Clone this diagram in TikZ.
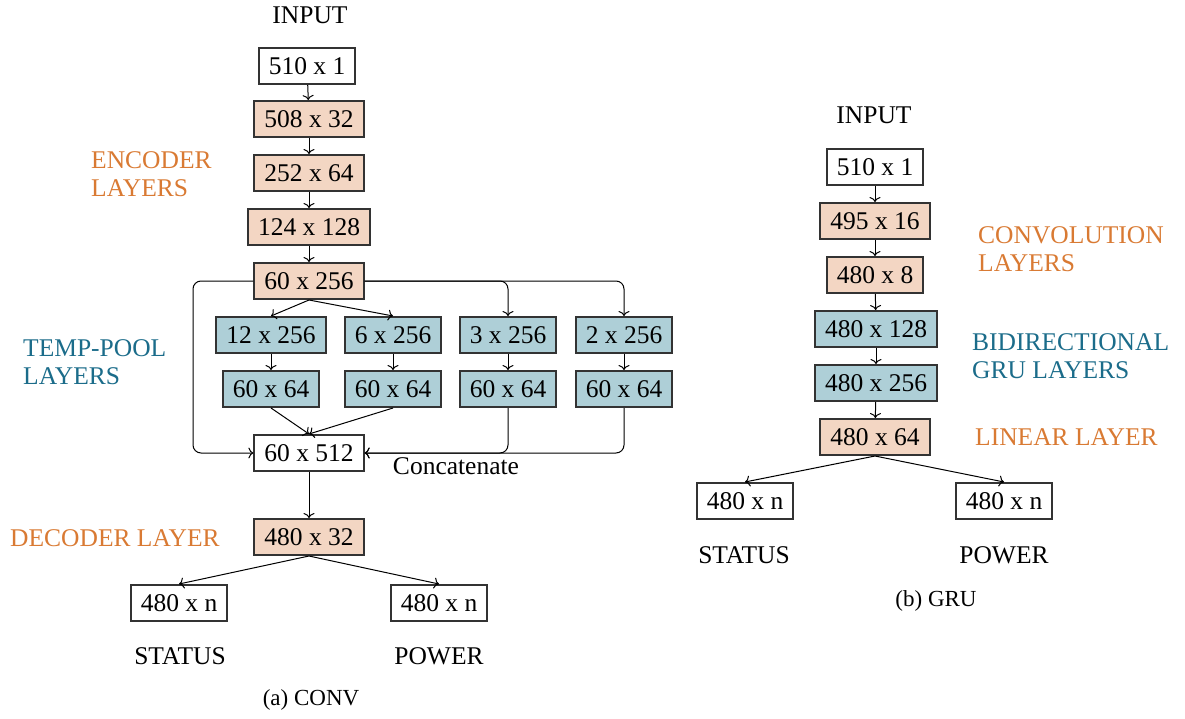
\documentclass[tikz,border=0pt]{standalone}
\usepackage{fontspec}
\setmainfont{Liberation Serif}
\usetikzlibrary{arrows.meta,calc}
\definecolor{peach}{HTML}{F3D6C3}
\definecolor{lblue}{HTML}{AECFD7}
\definecolor{orangetxt}{HTML}{D97A33}
\definecolor{bluetxt}{HTML}{1B6C8A}
\definecolor{edge}{HTML}{333333}
\begin{document}
\begin{tikzpicture}[x=1pt,y=-1pt,
  font=\fontsize{25.5}{28}\selectfont,
  box/.style={draw=edge,line width=2pt,minimum height=36pt,inner xsep=10pt,inner ysep=0pt,text height=17.5pt,text depth=0pt,fill=white},
  enc/.style={box,fill=peach},
  tmp/.style={box,fill=lblue},
  lbl/.style={anchor=west,align=left,inner sep=0pt},
  olbl/.style={lbl,text=orangetxt},
  blbl/.style={lbl,text=bluetxt},
  arr/.style={-{Computer Modern Rightarrow[length=5pt,width=11pt]},line width=1pt},
  captxt/.style={font=\fontsize{23}{26}\selectfont}
]
\useasboundingbox (0,0) rectangle (1185,719);
% ---------- left: CONV ----------
\node (ain) at (310,15) {INPUT};
\node[box] (a0) at (307,66) {510 x 1};
\node[enc] (a1) at (309,119) {508 x 32};
\node[enc] (a2) at (309,173) {252 x 64};
\node[enc] (a3) at (309,227) {124 x 128};
\node[enc] (a4) at (309,281) {60 x 256};
\node[tmp] (t1) at (271,335) {12 x 256};
\node[tmp] (t2) at (393,335) {6 x 256};
\node[tmp] (t3) at (508,335) {3 x 256};
\node[tmp] (t4) at (624,335) {2 x 256};
\node[tmp] (p1) at (271,389) {60 x 64};
\node[tmp] (p2) at (393,389) {60 x 64};
\node[tmp] (p3) at (508,389) {60 x 64};
\node[tmp] (p4) at (624,389) {60 x 64};
\node[box] (cat) at (309,453) {60 x 512};
\node (catl) at (456,466) {Concatenate};
\node[enc] (dec) at (309,537) {480 x 32};
\node[box] (os) at (179,603) {480 x n};
\node[box] (op) at (439,603) {480 x n};
\node (sts) at (180,656) {STATUS};
\node (pwr) at (439,656) {POWER};
\node[captxt] (capa) at (311,700) {(a) CONV};
\node[olbl] (encl) at (91,174) {ENCODER\\LAYERS};
\node[blbl] (tpl) at (23,362) {TEMP-POOL\\LAYERS};
\node[olbl] (decl) at (10,538) {DECODER LAYER};
\coordinate (lx) at (193,0);

\draw[arr] (a0) -- (a1);
\draw[arr] (a1) -- (a2);
\draw[arr] (a2) -- (a3);
\draw[arr] (a3) -- (a4);
\draw[arr] (a4.south) -- (t1.north);
\draw[arr] (a4.south) -- (t2.north);
\draw[arr,rounded corners=8pt] (a4.east) -| (t3.north);
\draw[arr,rounded corners=8pt] (a4.east) -| (t4.north);
\draw[arr] (t1) -- (p1);
\draw[arr] (t2) -- (p2);
\draw[arr] (t3) -- (p3);
\draw[arr] (t4) -- (p4);
\draw[arr] (p1.south) -- (cat.north);
\draw[arr] (p2.south) -- (cat.north);
\draw[arr,rounded corners=8pt] (p3.south) |- (cat.east);
\draw[arr,rounded corners=8pt] (p4.south) |- (cat.east);
\draw[arr,rounded corners=8pt] (a4.west) -| (lx |- cat.west) -- (cat.west);
\draw[arr] (cat) -- (dec);
\draw[arr] (dec.south) -- (os.north);
\draw[arr] (dec.south) -- (op.north);
% ---------- right: GRU ----------
\node (bin) at (874,115) {INPUT};
\node[box] (b0) at (875,167) {510 x 1};
\node[enc] (b1) at (875,221) {495 x 16};
\node[enc] (b2) at (875,275) {480 x 8};
\node[tmp] (b3) at (876,329) {480 x 128};
\node[tmp] (b4) at (876,383) {480 x 256};
\node[enc] (b5) at (875,437) {480 x 64};
\node[box] (bs) at (745,501) {480 x n};
\node[box] (bp) at (1004,501) {480 x n};
\node (bsts) at (744,555) {STATUS};
\node (bpwr) at (1004,555) {POWER};
\node[captxt] (capb) at (936,601) {(b) GRU};
\node[olbl] (convl) at (978,249) {CONVOLUTION\\LAYERS};
\node[blbl] (grul) at (972,356) {BIDIRECTIONAL\\GRU LAYERS};
\node[olbl] (linl) at (975,437) {LINEAR LAYER};

\draw[arr] (b0) -- (b1);
\draw[arr] (b1) -- (b2);
\draw[arr] (b2) -- (b3);
\draw[arr] (b3) -- (b4);
\draw[arr] (b4) -- (b5);
\draw[arr] (b5.south) -- (bs.north);
\draw[arr] (b5.south) -- (bp.north);
\end{tikzpicture}
\end{document}
